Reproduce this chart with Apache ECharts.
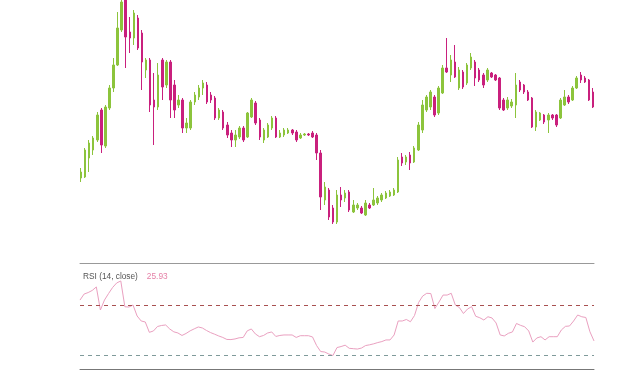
<!DOCTYPE html>
<html>
<head>
<meta charset="utf-8">
<script src="https://cdn.jsdelivr.net/npm/echarts@6/dist/echarts.min.js"></script>
<style>html,body{margin:0;padding:0;background:#fff;}#c{width:640px;height:388px;}</style>
</head>
<body>
<div id="c"></div>
<script>
var opens = [22.2,22.3,24.2,25.0,26.0,29.0,25.4,29.2,31.2,33.5,37.0,40.0,36.8,36.2,38.2,36.7,33.0,34.0,30.0,29.3,34.0,31.5,33.8,31.5,29.5,30.0,27.2,27.2,29.8,30.3,31.2,31.5,30.5,30.2,28.2,28.8,27.5,26.7,26.0,26.3,27.2,26.3,28.3,29.7,28.0,26.0,26.3,27.2,28.2,26.3,26.5,26.7,27.0,26.8,26.2,26.5,26.6,26.7,26.5,24.7,20.0,21.0,19.2,17.8,20.5,20.2,20.8,18.8,19.2,19.2,18.5,19.5,19.5,19.7,20.0,20.2,20.4,20.5,20.8,24.3,23.8,24.5,23.8,25.0,27.0,29.0,29.3,30.3,28.7,30.7,33.2,32.5,33.8,31.2,32.8,31.7,33.2,33.8,33.0,32.5,32.0,32.7,32.5,32.2,30.0,29.2,29.4,29.5,31.8,31.5,30.8,30.2,27.3,28.0,28.5,28.0,28.5,28.5,28.2,29.5,30.3,30.0,31.2,32.5,32.2,32.0,30.8];
var closes = [22.8,25.0,25.7,26.2,28.5,25.5,29.3,31.2,33.5,37.2,39.8,36.3,36.2,38.7,35.2,33.8,34.0,29.5,29.3,32.5,31.3,33.8,30.0,29.0,30.0,27.2,27.7,29.8,30.5,31.2,31.7,29.8,30.0,28.2,29.0,27.2,26.5,26.0,26.5,27.2,26.0,28.7,30.0,27.7,26.3,27.0,27.5,28.2,26.3,26.7,27.0,27.0,26.7,26.0,26.5,26.6,26.5,26.3,24.7,20.3,21.3,18.3,17.8,20.5,20.0,20.7,19.0,19.5,19.5,18.7,19.7,19.2,20.0,20.2,20.5,20.7,20.8,21.0,24.0,23.7,24.3,23.7,25.2,27.5,29.5,30.3,30.8,28.5,31.2,33.2,32.8,34.0,32.3,33.0,31.3,33.5,34.3,32.2,32.0,31.5,33.0,32.3,32.0,29.2,29.0,30.0,29.8,31.5,31.0,30.8,30.0,27.3,28.8,28.7,27.8,28.5,28.2,27.5,30.0,30.3,29.8,31.2,32.2,32.0,31.8,30.0,29.3];
var lows = [21.8,22.2,22.8,24.5,25.8,24.7,25.2,29.0,30.8,33.4,36.8,33.2,34.7,35.5,35.0,31.0,32.2,28.8,25.5,29.0,30.0,31.2,28.2,28.2,29.2,26.7,26.7,27.0,29.5,30.0,30.5,29.6,29.7,28.0,28.0,27.0,26.2,25.3,25.3,26.1,25.8,26.2,28.2,27.5,26.0,25.7,26.2,27.0,26.2,26.2,26.3,26.6,26.5,25.8,26.1,26.4,26.4,26.2,24.0,19.0,19.5,18.0,17.6,17.6,19.3,19.8,18.8,18.7,19.0,18.6,18.4,19.1,19.4,19.5,19.8,20.1,20.3,20.4,20.7,23.4,23.5,23.0,23.7,24.9,26.7,28.8,29.0,28.3,28.5,30.6,32.7,31.8,32.2,31.0,31.1,31.5,33.0,31.4,31.8,31.2,31.8,32.2,31.9,29.0,28.9,29.0,29.2,28.2,30.8,30.6,29.9,27.2,26.9,27.9,27.6,26.7,28.0,27.3,28.1,29.4,29.6,29.9,31.1,31.7,31.7,29.9,29.2];
var highs = [23.2,25.2,26.0,26.4,28.8,29.2,29.5,31.5,34.2,38.8,42.0,41.0,38.3,39.0,38.5,37.0,34.2,34.2,32.7,33.7,34.2,34.0,34.0,32.0,30.5,30.2,28.2,30.0,30.8,31.5,32.0,31.8,30.8,30.4,29.2,29.0,27.8,27.0,27.0,27.4,27.4,28.8,30.2,29.9,28.2,27.2,27.7,28.4,28.4,27.0,27.2,27.2,27.1,27.0,26.7,26.7,26.7,26.9,26.7,25.0,21.8,21.2,19.5,21.0,21.3,21.0,21.0,20.0,19.7,19.4,20.0,19.7,21.2,20.4,20.7,20.9,21.0,21.2,24.3,24.7,24.5,24.8,25.4,27.8,30.0,30.5,31.0,30.5,31.4,33.5,36.2,34.5,35.5,33.3,33.0,33.7,34.7,34.0,33.2,32.7,33.2,32.8,32.6,32.3,30.2,30.3,30.1,32.7,32.0,31.6,31.0,30.3,29.0,28.8,28.6,28.7,28.6,28.6,30.2,31.0,30.5,31.4,32.4,32.8,32.4,32.1,31.2];
var rsi = [74.3,79.1,80.3,82.0,84.8,66.3,74.3,79.5,84.4,88.0,89.6,68.9,68.7,70.3,61.5,57.5,56.7,48.4,49.5,53.1,53.9,54.3,51.1,48.8,47.9,45.9,47.5,49.6,51.2,52.7,51.9,49.9,48.2,46.9,45.5,44.3,42.7,42.6,43.1,44.0,44.3,49.6,51.1,47.1,44.9,45.9,47.9,48.7,45.1,45.9,46.3,46.3,46.3,44.3,45.7,45.7,45.7,44.7,37.8,33.0,32.6,31.0,29.8,36.2,37.0,38.1,35.6,35.3,35.0,35.8,37.8,38.4,39.2,40.2,41.0,42.3,42.3,46.3,57.5,57.5,58.7,56.9,61.9,72.3,77.5,79.7,79.5,67.5,72.7,78.3,78.3,79.7,70.3,68.3,63.5,67.1,69.0,61.3,60.1,58.3,60.9,59.9,55.9,46.3,45.5,47.6,48.7,55.5,54.0,52.9,49.5,40.6,43.9,44.9,42.3,44.9,44.9,44.9,50.3,53.2,53.5,57.5,62.3,60.9,60.3,48.9,41.5];
var rsiLevels = [70, 30];
var rsiLabel = 'RSI (14, close)';
var rsiValueText = '25.93';

var cats = opens.map(function(_, i){ return i; });
var ohlc = opens.map(function(o, i){ return [o, closes[i], lows[i], highs[i]]; });

var chart = echarts.init(document.getElementById('c'), null, {renderer:'canvas'});
chart.setOption({
  animation: false,
  backgroundColor: '#fff',
  grid: [
    {left: 79, width: 516, top: 0, height: 230},
    {left: 80, width: 514, top: 263, height: 106}
  ],
  xAxis: [
    {type:'category', data: cats, gridIndex:0, boundaryGap:true, show:false},
    {type:'category', data: cats, gridIndex:1, boundaryGap:false, position:'bottom',
     axisLine:{show:true, lineStyle:{color:'#777', width:1}}, axisTick:{show:false}, axisLabel:{show:false}, splitLine:{show:false}},
    {type:'category', data: cats, gridIndex:1, boundaryGap:false, position:'top',
     axisLine:{show:true, lineStyle:{color:'#999', width:1}}, axisTick:{show:false}, axisLabel:{show:false}, splitLine:{show:false}}
  ],
  yAxis: [
    {type:'value', gridIndex:0, min:17, max:40, show:false},
    {type:'value', gridIndex:1, min:19, max:104, show:false}
  ],
  title: {
    left: 83, top: 268, padding: 0,
    text: '{a|' + rsiLabel + '} {b|' + rsiValueText + '}',
    textStyle: {
      fontWeight: 'normal',
      rich: {
        a: {fontSize: 8.3, color:'#555', fontWeight:'normal', fontFamily:'Liberation Sans', padding:[0,4,0,0]},
        b: {fontSize: 8.3, color:'#e57fa6', fontWeight:'normal', fontFamily:'Liberation Sans'}
      }
    }
  },
  series: [
    {
      type:'candlestick', xAxisIndex:0, yAxisIndex:0, data: ohlc, barWidth: 2,
      itemStyle: {color:'#8cc43c', color0:'#c9207d', borderColor:'#8cc43c', borderColor0:'#c9207d', borderWidth:1}
    },
    {
      type:'line', xAxisIndex:1, yAxisIndex:1, data: rsi, symbol:'none',
      lineStyle:{color:'#eaa0c0', width:1},
      markLine: {
        silent:true, symbol:'none', label:{show:false},
        data: [
          {yAxis: rsiLevels[0], lineStyle:{color:'#a85050', type:[4,4], width:1}},
          {yAxis: rsiLevels[1], lineStyle:{color:'#7f9a9a', type:[4,4], width:1}}
        ]
      }
    }
  ]
});
</script>
</body>
</html>
